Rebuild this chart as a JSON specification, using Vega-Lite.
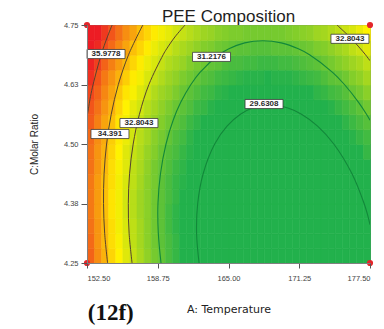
{
  "$schema": "https://vega.github.io/schema/vega-lite/v6.json",
  "width": 283,
  "height": 238,
  "autosize": "none",
  "padding": {"left": 87, "top": 25, "right": 14, "bottom": 66},
  "background": "white",
  "title": {"text": "PEE Composition", "font": "Liberation Sans", "fontSize": 17, "fontWeight": "normal", "color": "#1e1e1e", "offset": 4, "dy": 9},
  "config": {
    "view": {"stroke": "#7f7f7f", "strokeWidth": 1},
    "font": "Liberation Sans"
  },
  "datasets": {
    "grid": [
      {"t":152.8125,"r":4.265625,"v":35.6},{"t":153.4375,"r":4.265625,"v":35.0},{"t":154.0625,"r":4.265625,"v":34.5},{"t":154.6875,"r":4.265625,"v":34.0},{"t":155.3125,"r":4.265625,"v":33.6},{"t":155.9375,"r":4.265625,"v":33.1},{"t":156.5625,"r":4.265625,"v":32.7},{"t":157.1875,"r":4.265625,"v":32.3},{"t":157.8125,"r":4.265625,"v":31.9},{"t":158.4375,"r":4.265625,"v":31.5},{"t":159.0625,"r":4.265625,"v":31.2},{"t":159.6875,"r":4.265625,"v":30.8},{"t":160.3125,"r":4.265625,"v":30.5},{"t":160.9375,"r":4.265625,"v":30.2},{"t":161.5625,"r":4.265625,"v":29.9},{"t":162.1875,"r":4.265625,"v":29.7},{"t":162.8125,"r":4.265625,"v":29.5},{"t":163.4375,"r":4.265625,"v":29.2},{"t":164.0625,"r":4.265625,"v":29.0},{"t":164.6875,"r":4.265625,"v":28.9},{"t":165.3125,"r":4.265625,"v":28.7},{"t":165.9375,"r":4.265625,"v":28.6},{"t":166.5625,"r":4.265625,"v":28.4},{"t":167.1875,"r":4.265625,"v":28.3},{"t":167.8125,"r":4.265625,"v":28.2},{"t":168.4375,"r":4.265625,"v":28.2},{"t":169.0625,"r":4.265625,"v":28.1},{"t":169.6875,"r":4.265625,"v":28.1},{"t":170.3125,"r":4.265625,"v":28.1},{"t":170.9375,"r":4.265625,"v":28.1},{"t":171.5625,"r":4.265625,"v":28.2},{"t":172.1875,"r":4.265625,"v":28.2},{"t":172.8125,"r":4.265625,"v":28.3},{"t":173.4375,"r":4.265625,"v":28.4},{"t":174.0625,"r":4.265625,"v":28.5},{"t":174.6875,"r":4.265625,"v":28.6},{"t":175.3125,"r":4.265625,"v":28.8},{"t":175.9375,"r":4.265625,"v":28.9},{"t":176.5625,"r":4.265625,"v":29.1},{"t":177.1875,"r":4.265625,"v":29.3},
      {"t":152.8125,"r":4.296875,"v":35.5},{"t":153.4375,"r":4.296875,"v":34.9},{"t":154.0625,"r":4.296875,"v":34.4},{"t":154.6875,"r":4.296875,"v":33.9},{"t":155.3125,"r":4.296875,"v":33.5},{"t":155.9375,"r":4.296875,"v":33.0},{"t":156.5625,"r":4.296875,"v":32.6},{"t":157.1875,"r":4.296875,"v":32.2},{"t":157.8125,"r":4.296875,"v":31.8},{"t":158.4375,"r":4.296875,"v":31.4},{"t":159.0625,"r":4.296875,"v":31.1},{"t":159.6875,"r":4.296875,"v":30.8},{"t":160.3125,"r":4.296875,"v":30.5},{"t":160.9375,"r":4.296875,"v":30.2},{"t":161.5625,"r":4.296875,"v":29.9},{"t":162.1875,"r":4.296875,"v":29.6},{"t":162.8125,"r":4.296875,"v":29.4},{"t":163.4375,"r":4.296875,"v":29.2},{"t":164.0625,"r":4.296875,"v":29.0},{"t":164.6875,"r":4.296875,"v":28.8},{"t":165.3125,"r":4.296875,"v":28.7},{"t":165.9375,"r":4.296875,"v":28.5},{"t":166.5625,"r":4.296875,"v":28.4},{"t":167.1875,"r":4.296875,"v":28.3},{"t":167.8125,"r":4.296875,"v":28.2},{"t":168.4375,"r":4.296875,"v":28.2},{"t":169.0625,"r":4.296875,"v":28.1},{"t":169.6875,"r":4.296875,"v":28.1},{"t":170.3125,"r":4.296875,"v":28.1},{"t":170.9375,"r":4.296875,"v":28.2},{"t":171.5625,"r":4.296875,"v":28.2},{"t":172.1875,"r":4.296875,"v":28.2},{"t":172.8125,"r":4.296875,"v":28.3},{"t":173.4375,"r":4.296875,"v":28.4},{"t":174.0625,"r":4.296875,"v":28.5},{"t":174.6875,"r":4.296875,"v":28.7},{"t":175.3125,"r":4.296875,"v":28.8},{"t":175.9375,"r":4.296875,"v":29.0},{"t":176.5625,"r":4.296875,"v":29.2},{"t":177.1875,"r":4.296875,"v":29.4},
      {"t":152.8125,"r":4.328125,"v":35.4},{"t":153.4375,"r":4.328125,"v":34.9},{"t":154.0625,"r":4.328125,"v":34.4},{"t":154.6875,"r":4.328125,"v":33.9},{"t":155.3125,"r":4.328125,"v":33.4},{"t":155.9375,"r":4.328125,"v":33.0},{"t":156.5625,"r":4.328125,"v":32.6},{"t":157.1875,"r":4.328125,"v":32.2},{"t":157.8125,"r":4.328125,"v":31.8},{"t":158.4375,"r":4.328125,"v":31.4},{"t":159.0625,"r":4.328125,"v":31.1},{"t":159.6875,"r":4.328125,"v":30.7},{"t":160.3125,"r":4.328125,"v":30.4},{"t":160.9375,"r":4.328125,"v":30.1},{"t":161.5625,"r":4.328125,"v":29.9},{"t":162.1875,"r":4.328125,"v":29.6},{"t":162.8125,"r":4.328125,"v":29.4},{"t":163.4375,"r":4.328125,"v":29.2},{"t":164.0625,"r":4.328125,"v":29.0},{"t":164.6875,"r":4.328125,"v":28.8},{"t":165.3125,"r":4.328125,"v":28.7},{"t":165.9375,"r":4.328125,"v":28.5},{"t":166.5625,"r":4.328125,"v":28.4},{"t":167.1875,"r":4.328125,"v":28.3},{"t":167.8125,"r":4.328125,"v":28.3},{"t":168.4375,"r":4.328125,"v":28.2},{"t":169.0625,"r":4.328125,"v":28.2},{"t":169.6875,"r":4.328125,"v":28.2},{"t":170.3125,"r":4.328125,"v":28.2},{"t":170.9375,"r":4.328125,"v":28.2},{"t":171.5625,"r":4.328125,"v":28.2},{"t":172.1875,"r":4.328125,"v":28.3},{"t":172.8125,"r":4.328125,"v":28.4},{"t":173.4375,"r":4.328125,"v":28.5},{"t":174.0625,"r":4.328125,"v":28.6},{"t":174.6875,"r":4.328125,"v":28.7},{"t":175.3125,"r":4.328125,"v":28.9},{"t":175.9375,"r":4.328125,"v":29.1},{"t":176.5625,"r":4.328125,"v":29.3},{"t":177.1875,"r":4.328125,"v":29.5},
      {"t":152.8125,"r":4.359375,"v":35.3},{"t":153.4375,"r":4.359375,"v":34.8},{"t":154.0625,"r":4.359375,"v":34.3},{"t":154.6875,"r":4.359375,"v":33.8},{"t":155.3125,"r":4.359375,"v":33.4},{"t":155.9375,"r":4.359375,"v":32.9},{"t":156.5625,"r":4.359375,"v":32.5},{"t":157.1875,"r":4.359375,"v":32.1},{"t":157.8125,"r":4.359375,"v":31.8},{"t":158.4375,"r":4.359375,"v":31.4},{"t":159.0625,"r":4.359375,"v":31.1},{"t":159.6875,"r":4.359375,"v":30.7},{"t":160.3125,"r":4.359375,"v":30.4},{"t":160.9375,"r":4.359375,"v":30.2},{"t":161.5625,"r":4.359375,"v":29.9},{"t":162.1875,"r":4.359375,"v":29.6},{"t":162.8125,"r":4.359375,"v":29.4},{"t":163.4375,"r":4.359375,"v":29.2},{"t":164.0625,"r":4.359375,"v":29.0},{"t":164.6875,"r":4.359375,"v":28.9},{"t":165.3125,"r":4.359375,"v":28.7},{"t":165.9375,"r":4.359375,"v":28.6},{"t":166.5625,"r":4.359375,"v":28.5},{"t":167.1875,"r":4.359375,"v":28.4},{"t":167.8125,"r":4.359375,"v":28.3},{"t":168.4375,"r":4.359375,"v":28.3},{"t":169.0625,"r":4.359375,"v":28.3},{"t":169.6875,"r":4.359375,"v":28.2},{"t":170.3125,"r":4.359375,"v":28.3},{"t":170.9375,"r":4.359375,"v":28.3},{"t":171.5625,"r":4.359375,"v":28.3},{"t":172.1875,"r":4.359375,"v":28.4},{"t":172.8125,"r":4.359375,"v":28.5},{"t":173.4375,"r":4.359375,"v":28.6},{"t":174.0625,"r":4.359375,"v":28.7},{"t":174.6875,"r":4.359375,"v":28.9},{"t":175.3125,"r":4.359375,"v":29.0},{"t":175.9375,"r":4.359375,"v":29.2},{"t":176.5625,"r":4.359375,"v":29.4},{"t":177.1875,"r":4.359375,"v":29.6},
      {"t":152.8125,"r":4.390625,"v":35.3},{"t":153.4375,"r":4.390625,"v":34.8},{"t":154.0625,"r":4.390625,"v":34.3},{"t":154.6875,"r":4.390625,"v":33.8},{"t":155.3125,"r":4.390625,"v":33.4},{"t":155.9375,"r":4.390625,"v":32.9},{"t":156.5625,"r":4.390625,"v":32.5},{"t":157.1875,"r":4.390625,"v":32.1},{"t":157.8125,"r":4.390625,"v":31.8},{"t":158.4375,"r":4.390625,"v":31.4},{"t":159.0625,"r":4.390625,"v":31.1},{"t":159.6875,"r":4.390625,"v":30.8},{"t":160.3125,"r":4.390625,"v":30.5},{"t":160.9375,"r":4.390625,"v":30.2},{"t":161.5625,"r":4.390625,"v":29.9},{"t":162.1875,"r":4.390625,"v":29.7},{"t":162.8125,"r":4.390625,"v":29.5},{"t":163.4375,"r":4.390625,"v":29.3},{"t":164.0625,"r":4.390625,"v":29.1},{"t":164.6875,"r":4.390625,"v":28.9},{"t":165.3125,"r":4.390625,"v":28.8},{"t":165.9375,"r":4.390625,"v":28.7},{"t":166.5625,"r":4.390625,"v":28.6},{"t":167.1875,"r":4.390625,"v":28.5},{"t":167.8125,"r":4.390625,"v":28.4},{"t":168.4375,"r":4.390625,"v":28.4},{"t":169.0625,"r":4.390625,"v":28.4},{"t":169.6875,"r":4.390625,"v":28.4},{"t":170.3125,"r":4.390625,"v":28.4},{"t":170.9375,"r":4.390625,"v":28.4},{"t":171.5625,"r":4.390625,"v":28.4},{"t":172.1875,"r":4.390625,"v":28.5},{"t":172.8125,"r":4.390625,"v":28.6},{"t":173.4375,"r":4.390625,"v":28.7},{"t":174.0625,"r":4.390625,"v":28.8},{"t":174.6875,"r":4.390625,"v":29.0},{"t":175.3125,"r":4.390625,"v":29.2},{"t":175.9375,"r":4.390625,"v":29.4},{"t":176.5625,"r":4.390625,"v":29.6},{"t":177.1875,"r":4.390625,"v":29.8},
      {"t":152.8125,"r":4.421875,"v":35.3},{"t":153.4375,"r":4.421875,"v":34.8},{"t":154.0625,"r":4.421875,"v":34.3},{"t":154.6875,"r":4.421875,"v":33.9},{"t":155.3125,"r":4.421875,"v":33.4},{"t":155.9375,"r":4.421875,"v":33.0},{"t":156.5625,"r":4.421875,"v":32.6},{"t":157.1875,"r":4.421875,"v":32.2},{"t":157.8125,"r":4.421875,"v":31.8},{"t":158.4375,"r":4.421875,"v":31.5},{"t":159.0625,"r":4.421875,"v":31.1},{"t":159.6875,"r":4.421875,"v":30.8},{"t":160.3125,"r":4.421875,"v":30.5},{"t":160.9375,"r":4.421875,"v":30.3},{"t":161.5625,"r":4.421875,"v":30.0},{"t":162.1875,"r":4.421875,"v":29.8},{"t":162.8125,"r":4.421875,"v":29.6},{"t":163.4375,"r":4.421875,"v":29.4},{"t":164.0625,"r":4.421875,"v":29.2},{"t":164.6875,"r":4.421875,"v":29.0},{"t":165.3125,"r":4.421875,"v":28.9},{"t":165.9375,"r":4.421875,"v":28.8},{"t":166.5625,"r":4.421875,"v":28.7},{"t":167.1875,"r":4.421875,"v":28.6},{"t":167.8125,"r":4.421875,"v":28.5},{"t":168.4375,"r":4.421875,"v":28.5},{"t":169.0625,"r":4.421875,"v":28.5},{"t":169.6875,"r":4.421875,"v":28.5},{"t":170.3125,"r":4.421875,"v":28.5},{"t":170.9375,"r":4.421875,"v":28.5},{"t":171.5625,"r":4.421875,"v":28.6},{"t":172.1875,"r":4.421875,"v":28.7},{"t":172.8125,"r":4.421875,"v":28.8},{"t":173.4375,"r":4.421875,"v":28.9},{"t":174.0625,"r":4.421875,"v":29.0},{"t":174.6875,"r":4.421875,"v":29.2},{"t":175.3125,"r":4.421875,"v":29.3},{"t":175.9375,"r":4.421875,"v":29.5},{"t":176.5625,"r":4.421875,"v":29.7},{"t":177.1875,"r":4.421875,"v":30.0},
      {"t":152.8125,"r":4.453125,"v":35.4},{"t":153.4375,"r":4.453125,"v":34.9},{"t":154.0625,"r":4.453125,"v":34.4},{"t":154.6875,"r":4.453125,"v":33.9},{"t":155.3125,"r":4.453125,"v":33.5},{"t":155.9375,"r":4.453125,"v":33.1},{"t":156.5625,"r":4.453125,"v":32.6},{"t":157.1875,"r":4.453125,"v":32.3},{"t":157.8125,"r":4.453125,"v":31.9},{"t":158.4375,"r":4.453125,"v":31.5},{"t":159.0625,"r":4.453125,"v":31.2},{"t":159.6875,"r":4.453125,"v":30.9},{"t":160.3125,"r":4.453125,"v":30.6},{"t":160.9375,"r":4.453125,"v":30.4},{"t":161.5625,"r":4.453125,"v":30.1},{"t":162.1875,"r":4.453125,"v":29.9},{"t":162.8125,"r":4.453125,"v":29.7},{"t":163.4375,"r":4.453125,"v":29.5},{"t":164.0625,"r":4.453125,"v":29.3},{"t":164.6875,"r":4.453125,"v":29.2},{"t":165.3125,"r":4.453125,"v":29.0},{"t":165.9375,"r":4.453125,"v":28.9},{"t":166.5625,"r":4.453125,"v":28.8},{"t":167.1875,"r":4.453125,"v":28.8},{"t":167.8125,"r":4.453125,"v":28.7},{"t":168.4375,"r":4.453125,"v":28.7},{"t":169.0625,"r":4.453125,"v":28.6},{"t":169.6875,"r":4.453125,"v":28.7},{"t":170.3125,"r":4.453125,"v":28.7},{"t":170.9375,"r":4.453125,"v":28.7},{"t":171.5625,"r":4.453125,"v":28.8},{"t":172.1875,"r":4.453125,"v":28.9},{"t":172.8125,"r":4.453125,"v":29.0},{"t":173.4375,"r":4.453125,"v":29.1},{"t":174.0625,"r":4.453125,"v":29.2},{"t":174.6875,"r":4.453125,"v":29.4},{"t":175.3125,"r":4.453125,"v":29.5},{"t":175.9375,"r":4.453125,"v":29.7},{"t":176.5625,"r":4.453125,"v":30.0},{"t":177.1875,"r":4.453125,"v":30.2},
      {"t":152.8125,"r":4.484375,"v":35.4},{"t":153.4375,"r":4.484375,"v":34.9},{"t":154.0625,"r":4.484375,"v":34.5},{"t":154.6875,"r":4.484375,"v":34.0},{"t":155.3125,"r":4.484375,"v":33.6},{"t":155.9375,"r":4.484375,"v":33.1},{"t":156.5625,"r":4.484375,"v":32.7},{"t":157.1875,"r":4.484375,"v":32.4},{"t":157.8125,"r":4.484375,"v":32.0},{"t":158.4375,"r":4.484375,"v":31.7},{"t":159.0625,"r":4.484375,"v":31.3},{"t":159.6875,"r":4.484375,"v":31.0},{"t":160.3125,"r":4.484375,"v":30.8},{"t":160.9375,"r":4.484375,"v":30.5},{"t":161.5625,"r":4.484375,"v":30.3},{"t":162.1875,"r":4.484375,"v":30.0},{"t":162.8125,"r":4.484375,"v":29.8},{"t":163.4375,"r":4.484375,"v":29.6},{"t":164.0625,"r":4.484375,"v":29.5},{"t":164.6875,"r":4.484375,"v":29.3},{"t":165.3125,"r":4.484375,"v":29.2},{"t":165.9375,"r":4.484375,"v":29.1},{"t":166.5625,"r":4.484375,"v":29.0},{"t":167.1875,"r":4.484375,"v":28.9},{"t":167.8125,"r":4.484375,"v":28.9},{"t":168.4375,"r":4.484375,"v":28.8},{"t":169.0625,"r":4.484375,"v":28.8},{"t":169.6875,"r":4.484375,"v":28.8},{"t":170.3125,"r":4.484375,"v":28.9},{"t":170.9375,"r":4.484375,"v":28.9},{"t":171.5625,"r":4.484375,"v":29.0},{"t":172.1875,"r":4.484375,"v":29.1},{"t":172.8125,"r":4.484375,"v":29.2},{"t":173.4375,"r":4.484375,"v":29.3},{"t":174.0625,"r":4.484375,"v":29.4},{"t":174.6875,"r":4.484375,"v":29.6},{"t":175.3125,"r":4.484375,"v":29.8},{"t":175.9375,"r":4.484375,"v":30.0},{"t":176.5625,"r":4.484375,"v":30.2},{"t":177.1875,"r":4.484375,"v":30.5},
      {"t":152.8125,"r":4.515625,"v":35.5},{"t":153.4375,"r":4.515625,"v":35.0},{"t":154.0625,"r":4.515625,"v":34.6},{"t":154.6875,"r":4.515625,"v":34.1},{"t":155.3125,"r":4.515625,"v":33.7},{"t":155.9375,"r":4.515625,"v":33.3},{"t":156.5625,"r":4.515625,"v":32.9},{"t":157.1875,"r":4.515625,"v":32.5},{"t":157.8125,"r":4.515625,"v":32.2},{"t":158.4375,"r":4.515625,"v":31.8},{"t":159.0625,"r":4.515625,"v":31.5},{"t":159.6875,"r":4.515625,"v":31.2},{"t":160.3125,"r":4.515625,"v":30.9},{"t":160.9375,"r":4.515625,"v":30.7},{"t":161.5625,"r":4.515625,"v":30.4},{"t":162.1875,"r":4.515625,"v":30.2},{"t":162.8125,"r":4.515625,"v":30.0},{"t":163.4375,"r":4.515625,"v":29.8},{"t":164.0625,"r":4.515625,"v":29.7},{"t":164.6875,"r":4.515625,"v":29.5},{"t":165.3125,"r":4.515625,"v":29.4},{"t":165.9375,"r":4.515625,"v":29.3},{"t":166.5625,"r":4.515625,"v":29.2},{"t":167.1875,"r":4.515625,"v":29.1},{"t":167.8125,"r":4.515625,"v":29.1},{"t":168.4375,"r":4.515625,"v":29.1},{"t":169.0625,"r":4.515625,"v":29.1},{"t":169.6875,"r":4.515625,"v":29.1},{"t":170.3125,"r":4.515625,"v":29.1},{"t":170.9375,"r":4.515625,"v":29.2},{"t":171.5625,"r":4.515625,"v":29.2},{"t":172.1875,"r":4.515625,"v":29.3},{"t":172.8125,"r":4.515625,"v":29.4},{"t":173.4375,"r":4.515625,"v":29.6},{"t":174.0625,"r":4.515625,"v":29.7},{"t":174.6875,"r":4.515625,"v":29.9},{"t":175.3125,"r":4.515625,"v":30.1},{"t":175.9375,"r":4.515625,"v":30.3},{"t":176.5625,"r":4.515625,"v":30.5},{"t":177.1875,"r":4.515625,"v":30.7},
      {"t":152.8125,"r":4.546875,"v":35.7},{"t":153.4375,"r":4.546875,"v":35.2},{"t":154.0625,"r":4.546875,"v":34.7},{"t":154.6875,"r":4.546875,"v":34.3},{"t":155.3125,"r":4.546875,"v":33.8},{"t":155.9375,"r":4.546875,"v":33.4},{"t":156.5625,"r":4.546875,"v":33.0},{"t":157.1875,"r":4.546875,"v":32.7},{"t":157.8125,"r":4.546875,"v":32.3},{"t":158.4375,"r":4.546875,"v":32.0},{"t":159.0625,"r":4.546875,"v":31.7},{"t":159.6875,"r":4.546875,"v":31.4},{"t":160.3125,"r":4.546875,"v":31.1},{"t":160.9375,"r":4.546875,"v":30.9},{"t":161.5625,"r":4.546875,"v":30.6},{"t":162.1875,"r":4.546875,"v":30.4},{"t":162.8125,"r":4.546875,"v":30.2},{"t":163.4375,"r":4.546875,"v":30.0},{"t":164.0625,"r":4.546875,"v":29.9},{"t":164.6875,"r":4.546875,"v":29.7},{"t":165.3125,"r":4.546875,"v":29.6},{"t":165.9375,"r":4.546875,"v":29.5},{"t":166.5625,"r":4.546875,"v":29.4},{"t":167.1875,"r":4.546875,"v":29.4},{"t":167.8125,"r":4.546875,"v":29.3},{"t":168.4375,"r":4.546875,"v":29.3},{"t":169.0625,"r":4.546875,"v":29.3},{"t":169.6875,"r":4.546875,"v":29.3},{"t":170.3125,"r":4.546875,"v":29.4},{"t":170.9375,"r":4.546875,"v":29.4},{"t":171.5625,"r":4.546875,"v":29.5},{"t":172.1875,"r":4.546875,"v":29.6},{"t":172.8125,"r":4.546875,"v":29.7},{"t":173.4375,"r":4.546875,"v":29.8},{"t":174.0625,"r":4.546875,"v":30.0},{"t":174.6875,"r":4.546875,"v":30.2},{"t":175.3125,"r":4.546875,"v":30.4},{"t":175.9375,"r":4.546875,"v":30.6},{"t":176.5625,"r":4.546875,"v":30.8},{"t":177.1875,"r":4.546875,"v":31.0},
      {"t":152.8125,"r":4.578125,"v":35.8},{"t":153.4375,"r":4.578125,"v":35.4},{"t":154.0625,"r":4.578125,"v":34.9},{"t":154.6875,"r":4.578125,"v":34.5},{"t":155.3125,"r":4.578125,"v":34.0},{"t":155.9375,"r":4.578125,"v":33.6},{"t":156.5625,"r":4.578125,"v":33.2},{"t":157.1875,"r":4.578125,"v":32.9},{"t":157.8125,"r":4.578125,"v":32.5},{"t":158.4375,"r":4.578125,"v":32.2},{"t":159.0625,"r":4.578125,"v":31.9},{"t":159.6875,"r":4.578125,"v":31.6},{"t":160.3125,"r":4.578125,"v":31.3},{"t":160.9375,"r":4.578125,"v":31.1},{"t":161.5625,"r":4.578125,"v":30.9},{"t":162.1875,"r":4.578125,"v":30.6},{"t":162.8125,"r":4.578125,"v":30.5},{"t":163.4375,"r":4.578125,"v":30.3},{"t":164.0625,"r":4.578125,"v":30.1},{"t":164.6875,"r":4.578125,"v":30.0},{"t":165.3125,"r":4.578125,"v":29.9},{"t":165.9375,"r":4.578125,"v":29.8},{"t":166.5625,"r":4.578125,"v":29.7},{"t":167.1875,"r":4.578125,"v":29.7},{"t":167.8125,"r":4.578125,"v":29.6},{"t":168.4375,"r":4.578125,"v":29.6},{"t":169.0625,"r":4.578125,"v":29.6},{"t":169.6875,"r":4.578125,"v":29.6},{"t":170.3125,"r":4.578125,"v":29.7},{"t":170.9375,"r":4.578125,"v":29.7},{"t":171.5625,"r":4.578125,"v":29.8},{"t":172.1875,"r":4.578125,"v":29.9},{"t":172.8125,"r":4.578125,"v":30.0},{"t":173.4375,"r":4.578125,"v":30.2},{"t":174.0625,"r":4.578125,"v":30.3},{"t":174.6875,"r":4.578125,"v":30.5},{"t":175.3125,"r":4.578125,"v":30.7},{"t":175.9375,"r":4.578125,"v":30.9},{"t":176.5625,"r":4.578125,"v":31.1},{"t":177.1875,"r":4.578125,"v":31.4},
      {"t":152.8125,"r":4.609375,"v":36.0},{"t":153.4375,"r":4.609375,"v":35.6},{"t":154.0625,"r":4.609375,"v":35.1},{"t":154.6875,"r":4.609375,"v":34.7},{"t":155.3125,"r":4.609375,"v":34.2},{"t":155.9375,"r":4.609375,"v":33.8},{"t":156.5625,"r":4.609375,"v":33.5},{"t":157.1875,"r":4.609375,"v":33.1},{"t":157.8125,"r":4.609375,"v":32.8},{"t":158.4375,"r":4.609375,"v":32.4},{"t":159.0625,"r":4.609375,"v":32.1},{"t":159.6875,"r":4.609375,"v":31.9},{"t":160.3125,"r":4.609375,"v":31.6},{"t":160.9375,"r":4.609375,"v":31.3},{"t":161.5625,"r":4.609375,"v":31.1},{"t":162.1875,"r":4.609375,"v":30.9},{"t":162.8125,"r":4.609375,"v":30.7},{"t":163.4375,"r":4.609375,"v":30.6},{"t":164.0625,"r":4.609375,"v":30.4},{"t":164.6875,"r":4.609375,"v":30.3},{"t":165.3125,"r":4.609375,"v":30.2},{"t":165.9375,"r":4.609375,"v":30.1},{"t":166.5625,"r":4.609375,"v":30.0},{"t":167.1875,"r":4.609375,"v":30.0},{"t":167.8125,"r":4.609375,"v":29.9},{"t":168.4375,"r":4.609375,"v":29.9},{"t":169.0625,"r":4.609375,"v":29.9},{"t":169.6875,"r":4.609375,"v":29.9},{"t":170.3125,"r":4.609375,"v":30.0},{"t":170.9375,"r":4.609375,"v":30.1},{"t":171.5625,"r":4.609375,"v":30.1},{"t":172.1875,"r":4.609375,"v":30.2},{"t":172.8125,"r":4.609375,"v":30.4},{"t":173.4375,"r":4.609375,"v":30.5},{"t":174.0625,"r":4.609375,"v":30.7},{"t":174.6875,"r":4.609375,"v":30.8},{"t":175.3125,"r":4.609375,"v":31.0},{"t":175.9375,"r":4.609375,"v":31.3},{"t":176.5625,"r":4.609375,"v":31.5},{"t":177.1875,"r":4.609375,"v":31.8},
      {"t":152.8125,"r":4.640625,"v":36.3},{"t":153.4375,"r":4.640625,"v":35.8},{"t":154.0625,"r":4.640625,"v":35.3},{"t":154.6875,"r":4.640625,"v":34.9},{"t":155.3125,"r":4.640625,"v":34.5},{"t":155.9375,"r":4.640625,"v":34.1},{"t":156.5625,"r":4.640625,"v":33.7},{"t":157.1875,"r":4.640625,"v":33.4},{"t":157.8125,"r":4.640625,"v":33.0},{"t":158.4375,"r":4.640625,"v":32.7},{"t":159.0625,"r":4.640625,"v":32.4},{"t":159.6875,"r":4.640625,"v":32.1},{"t":160.3125,"r":4.640625,"v":31.9},{"t":160.9375,"r":4.640625,"v":31.6},{"t":161.5625,"r":4.640625,"v":31.4},{"t":162.1875,"r":4.640625,"v":31.2},{"t":162.8125,"r":4.640625,"v":31.0},{"t":163.4375,"r":4.640625,"v":30.9},{"t":164.0625,"r":4.640625,"v":30.7},{"t":164.6875,"r":4.640625,"v":30.6},{"t":165.3125,"r":4.640625,"v":30.5},{"t":165.9375,"r":4.640625,"v":30.4},{"t":166.5625,"r":4.640625,"v":30.3},{"t":167.1875,"r":4.640625,"v":30.3},{"t":167.8125,"r":4.640625,"v":30.3},{"t":168.4375,"r":4.640625,"v":30.2},{"t":169.0625,"r":4.640625,"v":30.3},{"t":169.6875,"r":4.640625,"v":30.3},{"t":170.3125,"r":4.640625,"v":30.3},{"t":170.9375,"r":4.640625,"v":30.4},{"t":171.5625,"r":4.640625,"v":30.5},{"t":172.1875,"r":4.640625,"v":30.6},{"t":172.8125,"r":4.640625,"v":30.7},{"t":173.4375,"r":4.640625,"v":30.9},{"t":174.0625,"r":4.640625,"v":31.1},{"t":174.6875,"r":4.640625,"v":31.2},{"t":175.3125,"r":4.640625,"v":31.4},{"t":175.9375,"r":4.640625,"v":31.7},{"t":176.5625,"r":4.640625,"v":31.9},{"t":177.1875,"r":4.640625,"v":32.2},
      {"t":152.8125,"r":4.671875,"v":36.5},{"t":153.4375,"r":4.671875,"v":36.1},{"t":154.0625,"r":4.671875,"v":35.6},{"t":154.6875,"r":4.671875,"v":35.2},{"t":155.3125,"r":4.671875,"v":34.8},{"t":155.9375,"r":4.671875,"v":34.4},{"t":156.5625,"r":4.671875,"v":34.0},{"t":157.1875,"r":4.671875,"v":33.7},{"t":157.8125,"r":4.671875,"v":33.3},{"t":158.4375,"r":4.671875,"v":33.0},{"t":159.0625,"r":4.671875,"v":32.7},{"t":159.6875,"r":4.671875,"v":32.4},{"t":160.3125,"r":4.671875,"v":32.2},{"t":160.9375,"r":4.671875,"v":32.0},{"t":161.5625,"r":4.671875,"v":31.7},{"t":162.1875,"r":4.671875,"v":31.5},{"t":162.8125,"r":4.671875,"v":31.4},{"t":163.4375,"r":4.671875,"v":31.2},{"t":164.0625,"r":4.671875,"v":31.1},{"t":164.6875,"r":4.671875,"v":30.9},{"t":165.3125,"r":4.671875,"v":30.8},{"t":165.9375,"r":4.671875,"v":30.8},{"t":166.5625,"r":4.671875,"v":30.7},{"t":167.1875,"r":4.671875,"v":30.7},{"t":167.8125,"r":4.671875,"v":30.6},{"t":168.4375,"r":4.671875,"v":30.6},{"t":169.0625,"r":4.671875,"v":30.6},{"t":169.6875,"r":4.671875,"v":30.7},{"t":170.3125,"r":4.671875,"v":30.7},{"t":170.9375,"r":4.671875,"v":30.8},{"t":171.5625,"r":4.671875,"v":30.9},{"t":172.1875,"r":4.671875,"v":31.0},{"t":172.8125,"r":4.671875,"v":31.1},{"t":173.4375,"r":4.671875,"v":31.3},{"t":174.0625,"r":4.671875,"v":31.5},{"t":174.6875,"r":4.671875,"v":31.7},{"t":175.3125,"r":4.671875,"v":31.9},{"t":175.9375,"r":4.671875,"v":32.1},{"t":176.5625,"r":4.671875,"v":32.3},{"t":177.1875,"r":4.671875,"v":32.6},
      {"t":152.8125,"r":4.703125,"v":36.8},{"t":153.4375,"r":4.703125,"v":36.4},{"t":154.0625,"r":4.703125,"v":35.9},{"t":154.6875,"r":4.703125,"v":35.5},{"t":155.3125,"r":4.703125,"v":35.1},{"t":155.9375,"r":4.703125,"v":34.7},{"t":156.5625,"r":4.703125,"v":34.3},{"t":157.1875,"r":4.703125,"v":34.0},{"t":157.8125,"r":4.703125,"v":33.7},{"t":158.4375,"r":4.703125,"v":33.3},{"t":159.0625,"r":4.703125,"v":33.0},{"t":159.6875,"r":4.703125,"v":32.8},{"t":160.3125,"r":4.703125,"v":32.5},{"t":160.9375,"r":4.703125,"v":32.3},{"t":161.5625,"r":4.703125,"v":32.1},{"t":162.1875,"r":4.703125,"v":31.9},{"t":162.8125,"r":4.703125,"v":31.7},{"t":163.4375,"r":4.703125,"v":31.6},{"t":164.0625,"r":4.703125,"v":31.4},{"t":164.6875,"r":4.703125,"v":31.3},{"t":165.3125,"r":4.703125,"v":31.2},{"t":165.9375,"r":4.703125,"v":31.1},{"t":166.5625,"r":4.703125,"v":31.1},{"t":167.1875,"r":4.703125,"v":31.0},{"t":167.8125,"r":4.703125,"v":31.0},{"t":168.4375,"r":4.703125,"v":31.0},{"t":169.0625,"r":4.703125,"v":31.1},{"t":169.6875,"r":4.703125,"v":31.1},{"t":170.3125,"r":4.703125,"v":31.1},{"t":170.9375,"r":4.703125,"v":31.2},{"t":171.5625,"r":4.703125,"v":31.3},{"t":172.1875,"r":4.703125,"v":31.4},{"t":172.8125,"r":4.703125,"v":31.6},{"t":173.4375,"r":4.703125,"v":31.7},{"t":174.0625,"r":4.703125,"v":31.9},{"t":174.6875,"r":4.703125,"v":32.1},{"t":175.3125,"r":4.703125,"v":32.3},{"t":175.9375,"r":4.703125,"v":32.6},{"t":176.5625,"r":4.703125,"v":32.8},{"t":177.1875,"r":4.703125,"v":33.1},
      {"t":152.8125,"r":4.734375,"v":37.1},{"t":153.4375,"r":4.734375,"v":36.7},{"t":154.0625,"r":4.734375,"v":36.2},{"t":154.6875,"r":4.734375,"v":35.8},{"t":155.3125,"r":4.734375,"v":35.4},{"t":155.9375,"r":4.734375,"v":35.0},{"t":156.5625,"r":4.734375,"v":34.7},{"t":157.1875,"r":4.734375,"v":34.3},{"t":157.8125,"r":4.734375,"v":34.0},{"t":158.4375,"r":4.734375,"v":33.7},{"t":159.0625,"r":4.734375,"v":33.4},{"t":159.6875,"r":4.734375,"v":33.2},{"t":160.3125,"r":4.734375,"v":32.9},{"t":160.9375,"r":4.734375,"v":32.7},{"t":161.5625,"r":4.734375,"v":32.5},{"t":162.1875,"r":4.734375,"v":32.3},{"t":162.8125,"r":4.734375,"v":32.1},{"t":163.4375,"r":4.734375,"v":32.0},{"t":164.0625,"r":4.734375,"v":31.8},{"t":164.6875,"r":4.734375,"v":31.7},{"t":165.3125,"r":4.734375,"v":31.6},{"t":165.9375,"r":4.734375,"v":31.6},{"t":166.5625,"r":4.734375,"v":31.5},{"t":167.1875,"r":4.734375,"v":31.5},{"t":167.8125,"r":4.734375,"v":31.5},{"t":168.4375,"r":4.734375,"v":31.5},{"t":169.0625,"r":4.734375,"v":31.5},{"t":169.6875,"r":4.734375,"v":31.5},{"t":170.3125,"r":4.734375,"v":31.6},{"t":170.9375,"r":4.734375,"v":31.7},{"t":171.5625,"r":4.734375,"v":31.8},{"t":172.1875,"r":4.734375,"v":31.9},{"t":172.8125,"r":4.734375,"v":32.1},{"t":173.4375,"r":4.734375,"v":32.2},{"t":174.0625,"r":4.734375,"v":32.4},{"t":174.6875,"r":4.734375,"v":32.6},{"t":175.3125,"r":4.734375,"v":32.8},{"t":175.9375,"r":4.734375,"v":33.0},{"t":176.5625,"r":4.734375,"v":33.3},{"t":177.1875,"r":4.734375,"v":33.6}
    ],
    "contours": [
      {"c":"L5","k":0,"t":154.72,"r":4.75},{"c":"L5","k":1,"t":154.30,"r":4.725},{"c":"L5","k":2,"t":153.75,"r":4.6875},{"c":"L5","k":3,"t":153.04,"r":4.625},{"c":"L5","k":4,"t":152.81,"r":4.6},{"c":"L5","k":5,"t":152.54,"r":4.5625},{"c":"L5","k":6,"t":152.5,"r":4.559},
      {"c":"L4","k":0,"t":157.43,"r":4.75},{"c":"L4","k":1,"t":156.17,"r":4.6875},{"c":"L4","k":2,"t":155.27,"r":4.625},{"c":"L4","k":3,"t":154.64,"r":4.5625},{"c":"L4","k":4,"t":154.23,"r":4.5},{"c":"L4","k":5,"t":154.01,"r":4.4375},{"c":"L4","k":6,"t":153.96,"r":4.375},{"c":"L4","k":7,"t":154.06,"r":4.3125},{"c":"L4","k":8,"t":154.32,"r":4.25},
      {"c":"L3a","k":0,"t":161.16,"r":4.75},{"c":"L3a","k":1,"t":160.27,"r":4.725},{"c":"L3a","k":2,"t":159.54,"r":4.7},{"c":"L3a","k":3,"t":159.23,"r":4.6875},{"c":"L3a","k":4,"t":157.97,"r":4.625},{"c":"L3a","k":5,"t":157.13,"r":4.5625},{"c":"L3a","k":6,"t":156.58,"r":4.5},{"c":"L3a","k":7,"t":156.26,"r":4.4375},{"c":"L3a","k":8,"t":156.15,"r":4.375},{"c":"L3a","k":9,"t":156.22,"r":4.3125},{"c":"L3a","k":10,"t":156.48,"r":4.25},
      {"c":"L3b","k":0,"t":174.58,"r":4.75},{"c":"L3b","k":1,"t":175.70,"r":4.725},{"c":"L3b","k":2,"t":176.66,"r":4.7},{"c":"L3b","k":3,"t":177.10,"r":4.6875},{"c":"L3b","k":4,"t":177.5,"r":4.675},
      {"c":"L2","k":0,"t":159.04,"r":4.25},{"c":"L2","k":1,"t":158.80,"r":4.3125},{"c":"L2","k":2,"t":158.77,"r":4.375},{"c":"L2","k":3,"t":158.99,"r":4.4375},{"c":"L2","k":4,"t":159.48,"r":4.5},{"c":"L2","k":5,"t":160.11,"r":4.55},{"c":"L2","k":6,"t":160.78,"r":4.5875},{"c":"L2","k":7,"t":161.68,"r":4.625},{"c":"L2","k":8,"t":162.46,"r":4.65},{"c":"L2","k":9,"t":164.16,"r":4.6875},{"c":"L2","k":10,"t":165.04,"r":4.7},{"c":"L2","k":11,"t":166.43,"r":4.7125},{"c":"L2","k":12,"t":168.02,"r":4.717},{"c":"L2","k":13,"t":169.66,"r":4.7125},{"c":"L2","k":14,"t":171.17,"r":4.7},{"c":"L2","k":15,"t":172.16,"r":4.6875},{"c":"L2","k":16,"t":174.22,"r":4.65},{"c":"L2","k":17,"t":175.24,"r":4.625},{"c":"L2","k":18,"t":176.49,"r":4.5875},{"c":"L2","k":19,"t":177.19,"r":4.5625},{"c":"L2","k":20,"t":177.5,"r":4.55},
      {"c":"L1","k":0,"t":162.40,"r":4.25},{"c":"L1","k":1,"t":162.18,"r":4.3125},{"c":"L1","k":2,"t":162.28,"r":4.375},{"c":"L1","k":3,"t":162.76,"r":4.4375},{"c":"L1","k":4,"t":163.78,"r":4.5},{"c":"L1","k":5,"t":164.87,"r":4.5375},{"c":"L1","k":6,"t":166.05,"r":4.5625},{"c":"L1","k":7,"t":167.07,"r":4.575},{"c":"L1","k":8,"t":168.66,"r":4.5818},{"c":"L1","k":9,"t":170.31,"r":4.575},{"c":"L1","k":10,"t":171.45,"r":4.5625},{"c":"L1","k":11,"t":172.87,"r":4.5375},{"c":"L1","k":12,"t":174.30,"r":4.5},{"c":"L1","k":13,"t":175.91,"r":4.4375},{"c":"L1","k":14,"t":176.98,"r":4.375},{"c":"L1","k":15,"t":177.30,"r":4.35},{"c":"L1","k":16,"t":177.5,"r":4.3305}
    ],
    "labels": [
      {"label":"35.9778","t":154.18,"r":4.689},
      {"label":"34.391","t":154.53,"r":4.521},
      {"label":"32.8043","t":157.09,"r":4.544},
      {"label":"31.2176","t":163.5,"r":4.683},
      {"label":"29.6308","t":168.14,"r":4.584},
      {"label":"32.8043","t":175.73,"r":4.721}
    ],
    "corners": [
      {"t":152.5,"r":4.75},{"t":177.5,"r":4.75},{"t":152.5,"r":4.25},{"t":177.5,"r":4.25}
    ]
  },
  "layer": [
    {
      "data": {"name": "grid"},
      "mark": {"type": "rect", "strokeWidth": 0.6},
      "encoding": {
        "x": {"field": "t", "type": "quantitative", "bin": {"step": 0.625, "extent": [152.5, 177.5]},
              "scale": {"domain": [152.5, 177.5], "nice": false, "zero": false},
              "axis": {"title": "A: Temperature", "values": [152.5, 158.75, 165, 171.25, 177.5], "format": ".2f",
                       "labelFont": "Liberation Sans", "labelFontSize": 7.5, "labelColor": "#444", "tickColor": "#555", "tickSize": 5,
                       "labelPadding": 6, "domainColor": "#808080", "grid": false,
                       "titleFont": "DejaVu Sans", "titleFontSize": 11, "titleFontWeight": "normal", "titleColor": "#222", "titlePadding": 22}},
        "y": {"field": "r", "type": "quantitative", "bin": {"step": 0.03125, "extent": [4.25, 4.75]},
              "scale": {"domain": [4.25, 4.75], "nice": false, "zero": false},
              "axis": {"title": "C:Molar Ratio", "values": [4.25, 4.375, 4.5, 4.625, 4.75], "format": ".2f",
                       "labelFont": "Liberation Sans", "labelFontSize": 7.5, "labelColor": "#444", "tickColor": "#555", "tickSize": 6,
                       "labelPadding": 3, "domainColor": "#808080", "grid": false,
                       "titleFont": "Liberation Sans", "titleFontSize": 10, "titleFontWeight": "normal", "titleColor": "#222", "titlePadding": 24}},
        "color": {"field": "v", "type": "quantitative", "legend": null,
                  "scale": {"domain": [30.2, 33.6, 36.6], "range": ["#22b14c", "#fff200", "#ed1c24"], "clamp": true, "interpolate": "rgb"}},
        "stroke": {"field": "v", "type": "quantitative", "legend": null,
                   "scale": {"domain": [30.2, 33.6, 36.6], "range": ["#22b14c", "#fff200", "#ed1c24"], "clamp": true, "interpolate": "rgb"}}
      }
    },
    {
      "data": {"name": "contours"},
      "transform": [{"filter": {"field": "c", "oneOf": ["L5", "L4", "L3a", "L3b"]}}],
      "mark": {"type": "line", "interpolate": "catmull-rom", "stroke": "#56432f", "strokeWidth": 1, "clip": true},
      "encoding": {
        "x": {"field": "t", "type": "quantitative", "scale": {"domain": [152.5, 177.5], "nice": false, "zero": false}, "title": "A: Temperature"},
        "y": {"field": "r", "type": "quantitative", "scale": {"domain": [4.25, 4.75], "nice": false, "zero": false}, "title": "C:Molar Ratio"},
        "detail": {"field": "c"},
        "order": {"field": "k", "type": "quantitative"}
      }
    },
    {
      "data": {"name": "contours"},
      "transform": [{"filter": {"field": "c", "oneOf": ["L2", "L1"]}}],
      "mark": {"type": "line", "interpolate": "catmull-rom", "stroke": "#12883a", "strokeWidth": 1.1, "clip": true},
      "encoding": {
        "x": {"field": "t", "type": "quantitative", "scale": {"domain": [152.5, 177.5], "nice": false, "zero": false}, "title": "A: Temperature"},
        "y": {"field": "r", "type": "quantitative", "scale": {"domain": [4.25, 4.75], "nice": false, "zero": false}, "title": "C:Molar Ratio"},
        "detail": {"field": "c"},
        "order": {"field": "k", "type": "quantitative"}
      }
    },
    {
      "data": {"name": "labels"},
      "mark": {"type": "point", "shape": "M-1,-0.24H1V0.24H-1Z", "size": 1444, "filled": true, "fill": "#ffffff", "stroke": "#3a3a3a", "strokeWidth": 0.8, "opacity": 1},
      "encoding": {
        "x": {"field": "t", "type": "quantitative", "scale": {"domain": [152.5, 177.5], "nice": false, "zero": false}, "title": "A: Temperature"},
        "y": {"field": "r", "type": "quantitative", "scale": {"domain": [4.25, 4.75], "nice": false, "zero": false}, "title": "C:Molar Ratio"}
      }
    },
    {
      "data": {"name": "labels"},
      "mark": {"type": "text", "font": "Liberation Sans", "fontSize": 8, "fontWeight": "bold", "color": "#2a2a2a", "align": "center", "baseline": "middle"},
      "encoding": {
        "x": {"field": "t", "type": "quantitative", "scale": {"domain": [152.5, 177.5], "nice": false, "zero": false}, "title": "A: Temperature"},
        "y": {"field": "r", "type": "quantitative", "scale": {"domain": [4.25, 4.75], "nice": false, "zero": false}, "title": "C:Molar Ratio"},
        "text": {"field": "label"}
      }
    },
    {
      "data": {"name": "corners"},
      "mark": {"type": "point", "shape": "circle", "filled": true, "size": 38, "color": "#e3262b", "opacity": 1},
      "encoding": {
        "x": {"field": "t", "type": "quantitative", "scale": {"domain": [152.5, 177.5], "nice": false, "zero": false}, "title": "A: Temperature"},
        "y": {"field": "r", "type": "quantitative", "scale": {"domain": [4.25, 4.75], "nice": false, "zero": false}, "title": "C:Molar Ratio"}
      }
    },
    {
      "data": {"values": [{"caption": "(12f)"}]},
      "mark": {"type": "text", "font": "Liberation Serif", "fontWeight": "bold", "fontSize": 23, "color": "#111", "align": "center", "baseline": "middle"},
      "encoding": {
        "x": {"datum": 154.6, "type": "quantitative", "scale": {"domain": [152.5, 177.5], "nice": false, "zero": false}},
        "y": {"datum": 4.145, "type": "quantitative", "scale": {"domain": [4.25, 4.75], "nice": false, "zero": false}},
        "text": {"field": "caption"}
      }
    }
  ]
}
